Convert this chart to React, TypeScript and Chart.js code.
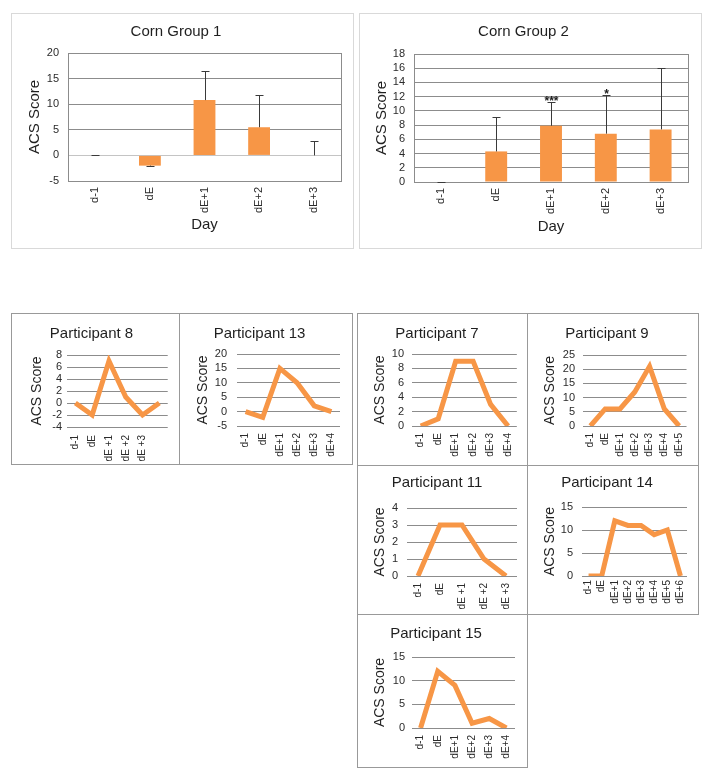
import React, { useEffect, useRef } from "react";
import { Chart, registerables } from "chart.js";
Chart.register(...registerables);

// ---------- DATA ----------
const cornDays = ["d-1", "dE", "dE+1", "dE+2", "dE+3"];
const corn1Values = [0, -2, 10.8, 5.5, 0];
const corn1ErrEnd = [0, -2.1, 16.5, 11.8, 2.9];
const corn1Ticks = [-5, 0, 5, 10, 15, 20];
const corn2Values = [0, 4.3, 7.9, 6.8, 7.4];
const corn2ErrEnd = [0, 9.2, 11.2, 12.2, 16.1];
const corn2Sig = ["", "", "***", "*", ""];
const corn2Ticks = [0, 2, 4, 6, 8, 10, 12, 14, 16, 18];

const p8Days = ["d-1", "dE", "dE +1", "dE +2", "dE +3", ""];
const p8Values = [0, -2, 7, 1, -2, 0];
const p8Ticks = [-4, -2, 0, 2, 4, 6, 8];

const p13Days = ["d-1", "dE", "dE+1", "dE+2", "dE+3", "dE+4"];
const p13Values = [0, -2, 15, 10, 2, 0];
const p13Ticks = [-5, 0, 5, 10, 15, 20];

const p7Days = ["d-1", "dE", "dE+1", "dE+2", "dE+3", "dE+4"];
const p7Values = [0, 1, 9, 9, 3, 0];
const p7Ticks = [0, 2, 4, 6, 8, 10];

const p9Days = ["d-1", "dE", "dE+1", "dE+2", "dE+3", "dE+4", "dE+5"];
const p9Values = [0, 6, 6, 12, 21, 6, 0];
const p9Ticks = [0, 5, 10, 15, 20, 25];

const p11Days = ["d-1", "dE", "dE +1", "dE +2", "dE +3"];
const p11Values = [0, 3, 3, 1, 0];
const p11Ticks = [0, 1, 2, 3, 4];

const p14Days = ["d-1", "dE", "dE+1", "dE+2", "dE+3", "dE+4", "dE+5", "dE+6"];
const p14Values = [0, 0, 12, 11, 11, 9, 10, 0];
const p14Ticks = [0, 5, 10, 15];

const p15Days = ["d-1", "dE", "dE+1", "dE+2", "dE+3", "dE+4"];
const p15Values = [0, 12, 9, 1, 2, 0];
const p15Ticks = [0, 5, 10, 15];

// ---------- STYLE / LAYOUT ----------
const FONT = "'Liberation Sans', Arial, sans-serif";
const ORANGE = "#F79646";
const TEXT = "#1f1f1f";
const TICK = "#2b2b2b";

type Rect = { l: number; t: number; r: number; b: number };
type Spec = {
  kind: "bar" | "line";
  title: string;
  labels: string[];
  values: number[];
  ticks: number[];
  errEnd?: number[];
  sig?: string[];
  box: Rect;
  plot: Rect;
  border: string;
  titleY: number;
  titleSize: number;
  yTitleX: number;
  yTitleSize: number;
  yLabelRight: number;
  yTickSize: number;
  xLabelTop: number;
  xTickSize: number;
  xTitleY?: number;
};

const cornCommon = {
  kind: "bar" as const,
  labels: cornDays,
  border: "#d9d9d9",
  titleSize: 15,
  yTitleSize: 15,
  yTickSize: 11,
  xTickSize: 11,
};

const partCommon = {
  kind: "line" as const,
  border: "#999999",
  titleSize: 15,
  yTitleSize: 14,
  yTickSize: 11,
  xTickSize: 10,
};

const specs: Spec[] = [
  {
    ...cornCommon,
    title: "Corn Group 1",
    values: corn1Values,
    errEnd: corn1ErrEnd,
    ticks: corn1Ticks,
    box: { l: 11, t: 13, r: 353, b: 248 },
    plot: { l: 68, t: 53, r: 341, b: 181 },
    titleY: 32,
    yTitleX: 35,
    yLabelRight: 59,
    xLabelTop: 187,
    xTitleY: 225,
  },
  {
    ...cornCommon,
    title: "Corn Group 2",
    values: corn2Values,
    errEnd: corn2ErrEnd,
    sig: corn2Sig,
    ticks: corn2Ticks,
    box: { l: 359, t: 13, r: 701, b: 248 },
    plot: { l: 414, t: 54, r: 688, b: 182 },
    titleY: 32,
    yTitleX: 382,
    yLabelRight: 405,
    xLabelTop: 188,
    xTitleY: 227,
  },
  {
    ...partCommon,
    title: "Participant 8",
    labels: p8Days,
    values: p8Values,
    ticks: p8Ticks,
    box: { l: 11, t: 313, r: 179, b: 464 },
    plot: { l: 67, t: 355, r: 172, b: 427 },
    titleY: 334,
    yTitleX: 37,
    yLabelRight: 62,
    xLabelTop: 435,
  },
  {
    ...partCommon,
    title: "Participant 13",
    labels: p13Days,
    values: p13Values,
    ticks: p13Ticks,
    box: { l: 179, t: 313, r: 352, b: 464 },
    plot: { l: 237, t: 354, r: 340, b: 426 },
    titleY: 334,
    yTitleX: 203,
    yLabelRight: 227,
    xLabelTop: 433,
  },
  {
    ...partCommon,
    title: "Participant 7",
    labels: p7Days,
    values: p7Values,
    ticks: p7Ticks,
    box: { l: 357, t: 313, r: 527, b: 465 },
    plot: { l: 412, t: 354, r: 517, b: 426 },
    titleY: 334,
    yTitleX: 380,
    yLabelRight: 404,
    xLabelTop: 433,
  },
  {
    ...partCommon,
    title: "Participant 9",
    labels: p9Days,
    values: p9Values,
    ticks: p9Ticks,
    box: { l: 527, t: 313, r: 698, b: 465 },
    plot: { l: 583, t: 355, r: 687, b: 426 },
    titleY: 334,
    yTitleX: 550,
    yLabelRight: 575,
    xLabelTop: 433,
  },
  {
    ...partCommon,
    title: "Participant 11",
    labels: p11Days,
    values: p11Values,
    ticks: p11Ticks,
    box: { l: 357, t: 465, r: 527, b: 614 },
    plot: { l: 407, t: 508, r: 517, b: 576 },
    titleY: 483,
    yTitleX: 380,
    yLabelRight: 398,
    xLabelTop: 583,
  },
  {
    ...partCommon,
    title: "Participant 14",
    labels: p14Days,
    values: p14Values,
    ticks: p14Ticks,
    box: { l: 527, t: 465, r: 698, b: 614 },
    plot: { l: 582, t: 507, r: 687, b: 576 },
    titleY: 483,
    yTitleX: 550,
    yLabelRight: 573,
    xLabelTop: 580,
  },
  {
    ...partCommon,
    title: "Participant 15",
    labels: p15Days,
    values: p15Values,
    ticks: p15Ticks,
    box: { l: 357, t: 614, r: 527, b: 767 },
    plot: { l: 412, t: 657, r: 515, b: 728 },
    titleY: 634,
    yTitleX: 380,
    yLabelRight: 405,
    xLabelTop: 735,
  },
];

function buildConfig(s: Spec): any {
  const H = s.box.b - s.box.t + 1;
  const tlh = s.titleSize * 1.2;
  const ylh = s.yTitleSize * 1.2;
  const isBar = s.kind === "bar";
  const xlh = s.titleSize * 1.2;

  const plugins: any[] = [];
  if (isBar) {
    plugins.push({
      id: "frameAndErrors",
      beforeDatasetsDraw(chart: any) {
        const a = chart.chartArea;
        const c = chart.ctx;
        c.save();
        c.strokeStyle = "#8c8c8c";
        c.lineWidth = 1;
        c.strokeRect(
          Math.round(a.left) + 0.5,
          Math.round(a.top) + 0.5,
          Math.round(a.right - a.left),
          Math.round(a.bottom - a.top)
        );
        c.restore();
      },
      afterDatasetsDraw(chart: any) {
        const meta = chart.getDatasetMeta(0);
        const ys = chart.scales.y;
        const c = chart.ctx;
        c.save();
        c.strokeStyle = "#3a3a3a";
        c.fillStyle = "#1a1a1a";
        c.lineWidth = 1;
        c.font = `bold 12px ${FONT}`;
        c.textAlign = "center";
        c.textBaseline = "middle";
        meta.data.forEach((bar: any, i: number) => {
          const end = s.errEnd ? s.errEnd[i] : s.values[i];
          const x = Math.round(bar.x) + 0.5;
          const y0 = ys.getPixelForValue(s.values[i]);
          const y1 = Math.round(ys.getPixelForValue(end)) + 0.5;
          c.beginPath();
          c.moveTo(x, y0);
          c.lineTo(x, y1);
          c.moveTo(x - 4, y1);
          c.lineTo(x + 4, y1);
          c.stroke();
          if (s.sig && s.sig[i]) c.fillText(s.sig[i], x, y1 - 1);
        });
        c.restore();
      },
    });
  }

  const yMin = s.ticks[0];
  const yMax = s.ticks[s.ticks.length - 1];
  const step = s.ticks[1] - s.ticks[0];

  return {
    type: s.kind,
    data: {
      labels: s.labels,
      datasets: [
        isBar
          ? {
              data: s.values,
              backgroundColor: ORANGE,
              borderWidth: 0,
              barPercentage: 0.4,
              categoryPercentage: 1,
            }
          : {
              data: s.values,
              borderColor: ORANGE,
              borderWidth: 5,
              pointRadius: 0,
              tension: 0,
              fill: false,
            },
      ],
    },
    options: {
      responsive: false,
      animation: false,
      devicePixelRatio: 1,
      layout: { padding: { left: 0, top: 0, right: s.box.r - s.plot.r + 1, bottom: 0 } },
      plugins: {
        legend: { display: false },
        tooltip: { enabled: false },
        title: {
          display: true,
          text: s.title,
          color: TEXT,
          font: { family: FONT, size: s.titleSize, weight: "normal", lineHeight: 1.2 },
          padding: {
            top: s.titleY - s.box.t - tlh / 2,
            bottom: s.plot.t - s.titleY - tlh / 2,
          },
        },
      },
      scales: {
        x: {
          offset: true,
          grid: { display: false, drawTicks: false, tickLength: 0 },
          border: { display: isBar, color: "#8c8c8c" },
          ticks: {
            autoSkip: false,
            minRotation: 90,
            maxRotation: 90,
            padding: s.xLabelTop - s.plot.b,
            color: TICK,
            font: { family: FONT, size: s.xTickSize },
          },
          title: s.xTitleY
            ? {
                display: true,
                text: "Day",
                color: TEXT,
                font: { family: FONT, size: s.titleSize, lineHeight: 1.2 },
                padding: { top: 0, bottom: H - (s.xTitleY - s.box.t) - xlh / 2 },
              }
            : { display: false },
          afterFit(scale: any) {
            scale.height = s.box.b - s.plot.b + 1;
          },
        },
        y: {
          min: yMin,
          max: yMax,
          grid: {
            drawTicks: false,
            tickLength: 0,
            color: (ctx: any) =>
              isBar && ctx.tick && ctx.tick.value === 0 ? "#c4c4c4" : "#8c8c8c",
          },
          border: { display: isBar, color: "#8c8c8c" },
          ticks: {
            autoSkip: false,
            stepSize: step,
            padding: s.plot.l - s.yLabelRight,
            color: TICK,
            font: { family: FONT, size: s.yTickSize },
          },
          title: {
            display: true,
            text: "ACS Score",
            color: TEXT,
            font: { family: FONT, size: s.yTitleSize, lineHeight: 1.2 },
            padding: { top: s.yTitleX - s.box.l - ylh / 2, bottom: 0 },
          },
          afterFit(scale: any) {
            scale.width = s.plot.l - s.box.l;
          },
        },
      },
    },
    plugins,
  };
}

function Panel({ spec }: { spec: Spec }) {
  const ref = useRef<HTMLCanvasElement>(null);
  useEffect(() => {
    const chart = new Chart(ref.current as HTMLCanvasElement, buildConfig(spec));
    return () => chart.destroy();
  }, [spec]);
  const b = spec.box;
  const w = b.r - b.l + 1;
  const h = b.b - b.t + 1;
  return (
    <>
      <div
        style={{
          position: "absolute",
          left: b.l,
          top: b.t,
          width: w,
          height: h,
          border: `1px solid ${spec.border}`,
          boxSizing: "border-box",
        }}
      />
      <canvas
        ref={ref}
        width={w}
        height={h}
        style={{ position: "absolute", left: b.l, top: b.t, width: w, height: h }}
      />
    </>
  );
}

export default function App() {
  return (
    <div
      style={{
        position: "fixed",
        left: 0,
        top: 0,
        width: 711,
        height: 780,
        background: "#ffffff",
        overflow: "hidden",
      }}
    >
      {specs.map((s) => (
        <Panel key={s.title} spec={s} />
      ))}
    </div>
  );
}
